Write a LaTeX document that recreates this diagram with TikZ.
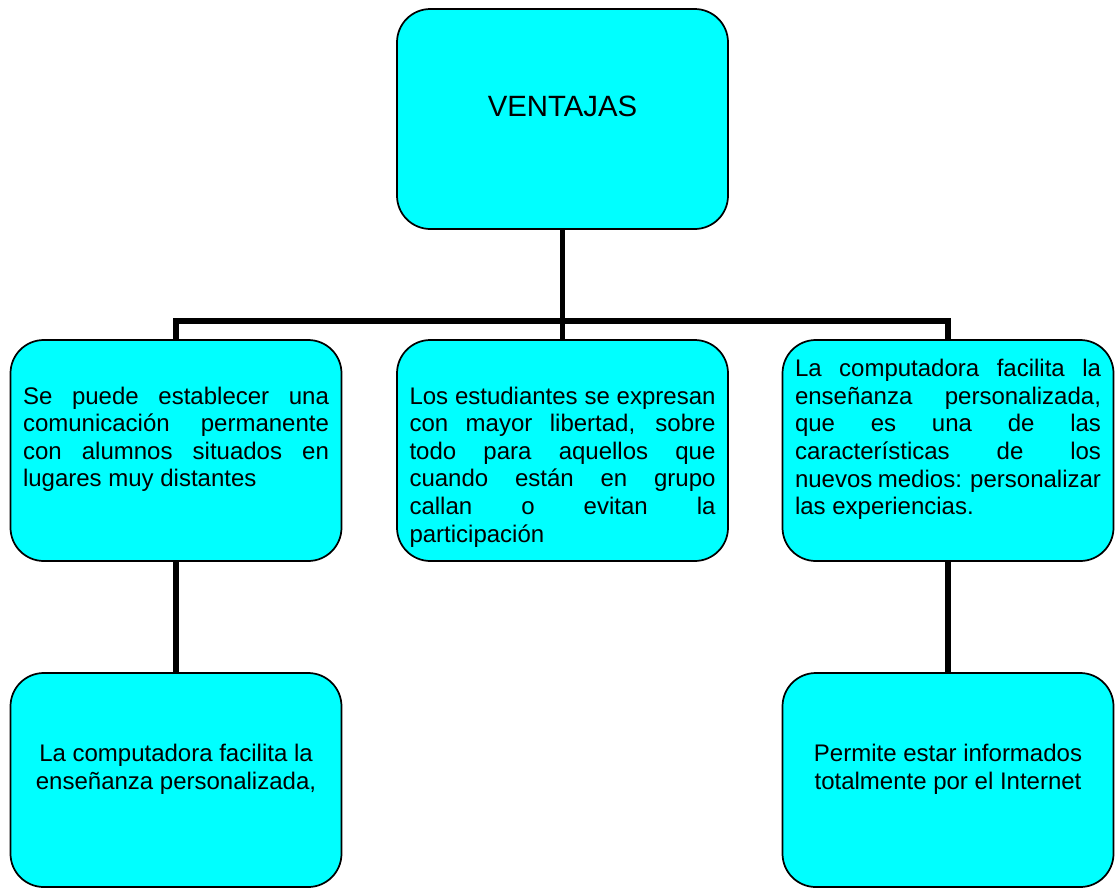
\documentclass[tikz,border=0pt]{standalone}
\usepackage{fontspec}
\setmainfont{Liberation Sans}
\usepackage{tikz}
\usetikzlibrary{calc,positioning}
\definecolor{boxcyan}{HTML}{00FFFF}
\hyphenpenalty=10000
\exhyphenpenalty=10000
\hbadness=10000
\vbadness=10000
\newcommand{\textsmall}{\fontsize{18pt}{20.7pt}\selectfont}
\newcommand{\textbig}{\fontsize{22pt}{25.3pt}\selectfont}
% #1 box height, #2 first baseline, #3 font and alignment, #4 text
\newcommand{\boxtxt}[4]{%
  \begin{minipage}[c][#1][t]{229.5pt}#3%
  \vspace*{\dimexpr#2-\ht\strutbox\relax}\strut#4%
  \end{minipage}}

\begin{document}
\begin{tikzpicture}[x=0.75pt, y=-0.75pt,
  cbox/.style={draw=black, line width=1.3pt, fill=boxcyan, rounded corners=25pt,
    inner sep=0pt, minimum width=248.25pt},
  conn/.style={draw=black, line width=3.9pt, line join=miter}]
  \useasboundingbox (0,0) rectangle (1116,889);
  \node[cbox] (ventajas) at (562.5,119)
    {\boxtxt{165pt}{80.5pt}{\textbig\centering}{VENTAJAS}};
  \node[cbox] (comunic) at (176,450.5)
    {\boxtxt{165.75pt}{48pt}{\textsmall}{Se puede establecer una\linebreak
      comunicación permanente\linebreak con alumnos situados en\linebreak
      lugares muy distantes}};
  \node[cbox] (libertad) at (562.5,450.5)
    {\boxtxt{165.75pt}{48pt}{\textsmall}{Los estudiantes se expresan\linebreak
      con mayor libertad, sobre\linebreak todo para aquellos que\linebreak
      cuando están en grupo\linebreak callan o evitan la\linebreak
      participación}};
  \node[cbox] (personal) at (948,450.5)
    {\boxtxt{165.75pt}{27.5pt}{\textsmall}{La computadora facilita la\linebreak
      enseñanza personalizada,\linebreak que es una de las\linebreak
      características de los\linebreak nuevos medios: personalizar\linebreak
      las experiencias.}};
  \node[cbox] (facilita) at (176,780)
    {\boxtxt{160.5pt}{66.5pt}{\textsmall\centering}{La computadora facilita la\\
      enseñanza personalizada,}};
  \node[cbox] (internet) at (948,780)
    {\boxtxt{160.5pt}{66.5pt}{\textsmall\centering}{Permite estar informados\\
      totalmente por el Internet}};
  % tree connectors
  \coordinate (fork) at (562.5,321);
  \draw[conn] (ventajas.south) -- (fork) -- (libertad.north);
  \draw[conn] (comunic.north) |- (fork) -| (personal.north);
  \draw[conn] (comunic.south) -- (facilita.north);
  \draw[conn] (personal.south) -- (internet.north);
\end{tikzpicture}
\end{document}
